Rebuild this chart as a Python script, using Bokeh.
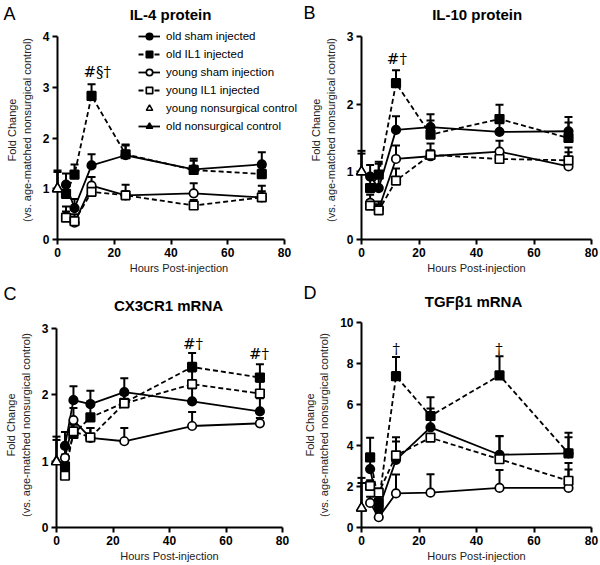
from bokeh.plotting import figure
from bokeh.layouts import row, column
from bokeh.models import Range1d, Legend, LegendItem, Label, FixedTicker
from bokeh.core.properties import value
from bokeh.embed import file_html
from bokeh.resources import INLINE

# ---------------- data ----------------
hours = [3, 6, 12, 24, 48, 72]
control_hour = [0]
x_ticks = [0, 20, 40, 60, 80]

series_labels = ["old sham injected", "old IL1 injected",
                 "young sham injection", "young IL1 injected"]
control_labels = ["young nonsurgical control", "old nonsurgical control"]

# Panel A: IL-4 protein (mean, mean+SEM)
il4_old_sham = [1.08, 0.62, 1.46, 1.66, 1.38, 1.48]
il4_old_sham_top = [1.30, 0.80, 1.68, 1.87, 1.59, 1.72]
il4_old_il1 = [0.90, 1.28, 2.83, 1.68, 1.37, 1.29]
il4_old_il1_top = [1.05, 1.48, 3.06, 1.85, 1.55, 1.42]
il4_young_sham = [0.45, 0.33, 1.06, 0.87, 0.91, 0.83]
il4_young_sham_top = [0.65, 0.50, 1.23, 1.08, 1.11, 1.06]
il4_young_il1 = [0.43, 0.36, 0.94, 0.87, 0.67, 0.83]
il4_young_il1_top = [0.55, 0.45, 1.05, 0.95, 0.78, 0.95]
il4_ctrl = [1.0, 1.0]
il4_ctrl_top = [1.33, 1.36]
il4_yticks = [0, 1, 2, 3, 4]

# Panel B: IL-10 protein
il10_old_sham = [0.93, 0.76, 1.62, 1.66, 1.59, 1.60]
il10_old_sham_top = [1.10, 1.12, 1.82, 1.85, 1.75, 1.81]
il10_old_il1 = [0.76, 0.96, 2.31, 1.55, 1.78, 1.50]
il10_old_il1_top = [0.95, 1.15, 2.50, 1.76, 1.99, 1.73]
il10_young_sham = [0.54, 0.45, 1.19, 1.23, 1.30, 1.08]
il10_young_sham_top = [0.66, 0.56, 1.39, 1.42, 1.46, 1.29]
il10_young_il1 = [0.50, 0.43, 0.87, 1.25, 1.19, 1.17]
il10_young_il1_top = [0.58, 0.52, 1.05, 1.32, 1.27, 1.36]
il10_ctrl = [1.0, 1.0]
il10_ctrl_top = [1.27, 1.31]
il10_yticks = [0, 1, 2, 3]

# Panel C: CX3CR1 mRNA
cx_old_sham = [1.23, 1.92, 1.86, 2.04, 1.90, 1.75]
cx_old_sham_top = [1.44, 2.13, 2.06, 2.25, 2.10, 1.95]
cx_old_il1 = [0.92, 1.41, 1.66, 1.88, 2.42, 2.26]
cx_old_il1_top = [1.10, 1.55, 1.90, 2.05, 2.63, 2.46]
cx_young_sham = [1.05, 1.62, 1.35, 1.30, 1.53, 1.57]
cx_young_sham_top = [1.25, 1.80, 1.50, 1.50, 1.74, 1.65]
cx_young_il1 = [0.78, 1.45, 1.36, 1.87, 2.16, 2.02]
cx_young_il1_top = [0.88, 1.60, 1.50, 2.00, 2.35, 2.20]
cx_ctrl = [0.99, 1.0]
cx_ctrl_top = [1.32, 1.37]
cx_yticks = [0, 1, 2, 3]

# Panel D: TGFb1 mRNA
tgf_old_sham = [2.85, 0.90, 3.30, 4.88, 3.55, 3.62]
tgf_old_sham_top = [3.50, 1.40, 4.20, 5.80, 4.46, 4.40]
tgf_old_il1 = [3.42, 1.20, 7.38, 5.44, 7.42, 3.62]
tgf_old_il1_top = [4.38, 1.70, 8.32, 6.35, 8.35, 4.62]
tgf_young_sham = [1.20, 0.50, 1.66, 1.70, 1.93, 1.93]
tgf_young_sham_top = [1.50, 0.70, 2.58, 2.60, 2.80, 2.83]
tgf_young_il1 = [2.03, 1.70, 3.52, 4.38, 3.33, 2.28]
tgf_young_il1_top = [2.30, 1.90, 4.40, 4.55, 4.45, 3.15]
tgf_ctrl = [0.95, 0.95]
tgf_ctrl_top = [2.17, 2.42]
tgf_yticks = [0, 2, 4, 6, 8, 10]

# significance marks: (text, x, y)
il4_notes = [("#§†", 14.0, 3.30)]
il10_notes = [("#†", 12.3, 2.67)]
cx_notes = [("#†", 48.3, 2.77), ("#†", 71.7, 2.61)]
tgf_notes = [("†", 12.1, 8.72), ("†", 47.8, 8.72)]

FONT = "Liberation Sans"
SERIF = "DejaVu Serif"
X_MAX = 80

STYLES = [
    dict(marker="circle", fill="black", dash="solid"),
    dict(marker="square", fill="black", dash="5 3"),
    dict(marker="circle", fill="white", dash="solid"),
    dict(marker="square", fill="white", dash="5 3"),
]


def make_panel(title, letter, ymax, yticks, means, tops, ctrl, ctrl_top, notes,
               size, borders, title_px, letter_px, legend=False,
               extend_right=0, extend_top=0):
    w, h = size
    left, right, top, bottom = borders
    fw = w - left - right
    fh = h - top - bottom
    # frame may extend past the axis ends (axis lines bounded to the data range)
    x_end = X_MAX * fw / (fw - extend_right)
    y_end = ymax * fh / (fh - extend_top)
    p = figure(width=w, height=h, output_backend="svg", toolbar_location=None,
               x_range=Range1d(0, x_end), y_range=Range1d(0, y_end),
               min_border_left=left, min_border_right=right,
               min_border_top=top, min_border_bottom=bottom)
    p.outline_line_color = None
    p.xgrid.grid_line_color = None
    p.ygrid.grid_line_color = None
    p.background_fill_color = "white"
    p.border_fill_color = "white"

    for ax in (p.xaxis[0], p.yaxis[0]):
        ax.axis_line_width = 2
        ax.axis_line_color = "black"
        ax.major_tick_line_width = 2
        ax.major_tick_line_color = "black"
        ax.major_tick_out = 5
        ax.major_tick_in = 0
        ax.minor_tick_line_color = None
        ax.major_label_text_font = FONT
        ax.major_label_text_font_style = "bold"
        ax.major_label_text_font_size = "12px"
        ax.major_label_text_color = "black"
        ax.axis_label_text_font = FONT
        ax.axis_label_text_font_style = "normal"
        ax.axis_label_text_font_size = "11px"
        ax.axis_label_text_color = "#222222"
    p.xaxis.bounds = (0, X_MAX)
    p.yaxis.bounds = (0, ymax)
    p.xaxis.ticker = FixedTicker(ticks=x_ticks)
    p.yaxis.ticker = FixedTicker(ticks=yticks)
    p.xaxis.axis_label = "Hours Post-injection"
    p.yaxis.axis_label = "Fold Change\n(vs. age-matched nonsurgical control)"
    p.xaxis.major_label_standoff = 3
    p.yaxis.major_label_standoff = 3
    p.xaxis.axis_label_standoff = 2
    p.yaxis.axis_label_standoff = 7

    line_rs, mark_rs = [], []
    for m, st in zip(means, STYLES):
        line_rs.append(p.line(hours, m, line_color="black", line_width=1.8,
                              line_dash=st["dash"]))
    for m, t in zip(means, tops):
        p.segment(x0=hours, y0=m, x1=hours, y1=t, line_color="black", line_width=2)
        p.scatter(hours, t, marker="dash", size=8, line_color="black", line_width=2)
    for m, st in zip(means, STYLES):
        mark_rs.append(p.scatter(hours, m, marker=st["marker"], size=8.5,
                                 fill_color=st["fill"], line_color="black",
                                 line_width=1.7))

    # nonsurgical controls at 0 h (young, old)
    for c, ct in zip(ctrl, ctrl_top):
        p.segment(x0=control_hour, y0=[c], x1=control_hour, y1=[ct],
                  line_color="black", line_width=2, level="overlay")
        p.scatter(control_hour, [ct], marker="dash", size=8, line_color="black",
                  line_width=2, level="overlay")
    old_ctrl_line = p.line(control_hour, [ctrl[1]], line_color="black", line_width=1.8)
    old_ctrl = p.scatter(control_hour, [ctrl[1]], marker="triangle", size=10,
                         fill_color="black", line_color="black", line_width=1.5,
                         level="overlay")
    young_ctrl = p.scatter(control_hour, [ctrl[0]], marker="triangle", size=10,
                           fill_color="white", line_color="black", line_width=1.5,
                           level="overlay")

    for txt, x, y in notes:
        p.add_layout(Label(x=x, y=y, text=txt, text_align="center",
                           text_baseline="middle", text_font=SERIF,
                           text_font_size="15px", text_color="black"))

    # title and panel letter: pixel positions converted to data coordinates
    def to_data(px, py):
        return (px - left) / fw * x_end, (top + fh - py) / fh * y_end

    tx, ty = to_data(*title_px)
    p.text(x=[tx], y=[ty], text=[title], text_align="center", text_baseline="middle",
           text_font=value(FONT), text_font_style="bold", text_font_size="15px",
           text_color="black", level="overlay")
    lx, ly = to_data(*letter_px)
    p.text(x=[lx], y=[ly], text=[letter], text_align="left", text_baseline="middle",
           text_font=value(FONT), text_font_size="18px", text_color="black",
           level="overlay")

    if legend:
        items = [LegendItem(label=lab, renderers=[lr, mr])
                 for lab, lr, mr in zip(series_labels, line_rs, mark_rs)]
        items.append(LegendItem(label=control_labels[0], renderers=[young_ctrl]))
        items.append(LegendItem(label=control_labels[1],
                                renderers=[old_ctrl_line, old_ctrl]))
        lg = Legend(items=items, location=(81, 105), padding=0, margin=0,
                    spacing=2, glyph_height=16, label_height=16, glyph_width=22,
                    label_standoff=6, border_line_color=None,
                    background_fill_alpha=0, label_text_font=FONT,
                    label_text_font_size="11.5px", label_text_color="black")
        p.add_layout(lg)
    return p


pA = make_panel("IL-4 protein", "A", 4, il4_yticks,
                [il4_old_sham, il4_old_il1, il4_young_sham, il4_young_il1],
                [il4_old_sham_top, il4_old_il1_top, il4_young_sham_top, il4_young_il1_top],
                il4_ctrl, il4_ctrl_top, il4_notes,
                (300, 282), (57, 0, 20, 43), (170, 14), (3, 13),
                legend=True, extend_right=16, extend_top=16)
pB = make_panel("IL-10 protein", "B", 3, il10_yticks,
                [il10_old_sham, il10_old_il1, il10_young_sham, il10_young_il1],
                [il10_old_sham_top, il10_old_il1_top, il10_young_sham_top, il10_young_il1_top],
                il10_ctrl, il10_ctrl_top, il10_notes,
                (300, 282), (61, 9, 20, 43), (176.7, 14), (3, 12),
                extend_top=16)
pC = make_panel("CX3CR1 mRNA", "C", 3, cx_yticks,
                [cx_old_sham, cx_old_il1, cx_young_sham, cx_young_il1],
                [cx_old_sham_top, cx_old_il1_top, cx_young_sham_top, cx_young_il1_top],
                cx_ctrl, cx_ctrl_top, cx_notes,
                (300, 283), (56, 18, 40, 38), (168, 23), (3, 11),
                extend_top=6)
pD = make_panel("TGF\u03b21 mRNA", "D", 10, tgf_yticks,
                [tgf_old_sham, tgf_old_il1, tgf_young_sham, tgf_young_il1],
                [tgf_old_sham_top, tgf_old_il1_top, tgf_young_sham_top, tgf_young_il1_top],
                tgf_ctrl, tgf_ctrl_top, tgf_notes,
                (300, 283), (61, 9, 40, 38), (173, 18.7), (3, 10))

page = column(row(pA, pB), row(pC, pD))
open("out.html", "w").write(file_html(page, INLINE))
